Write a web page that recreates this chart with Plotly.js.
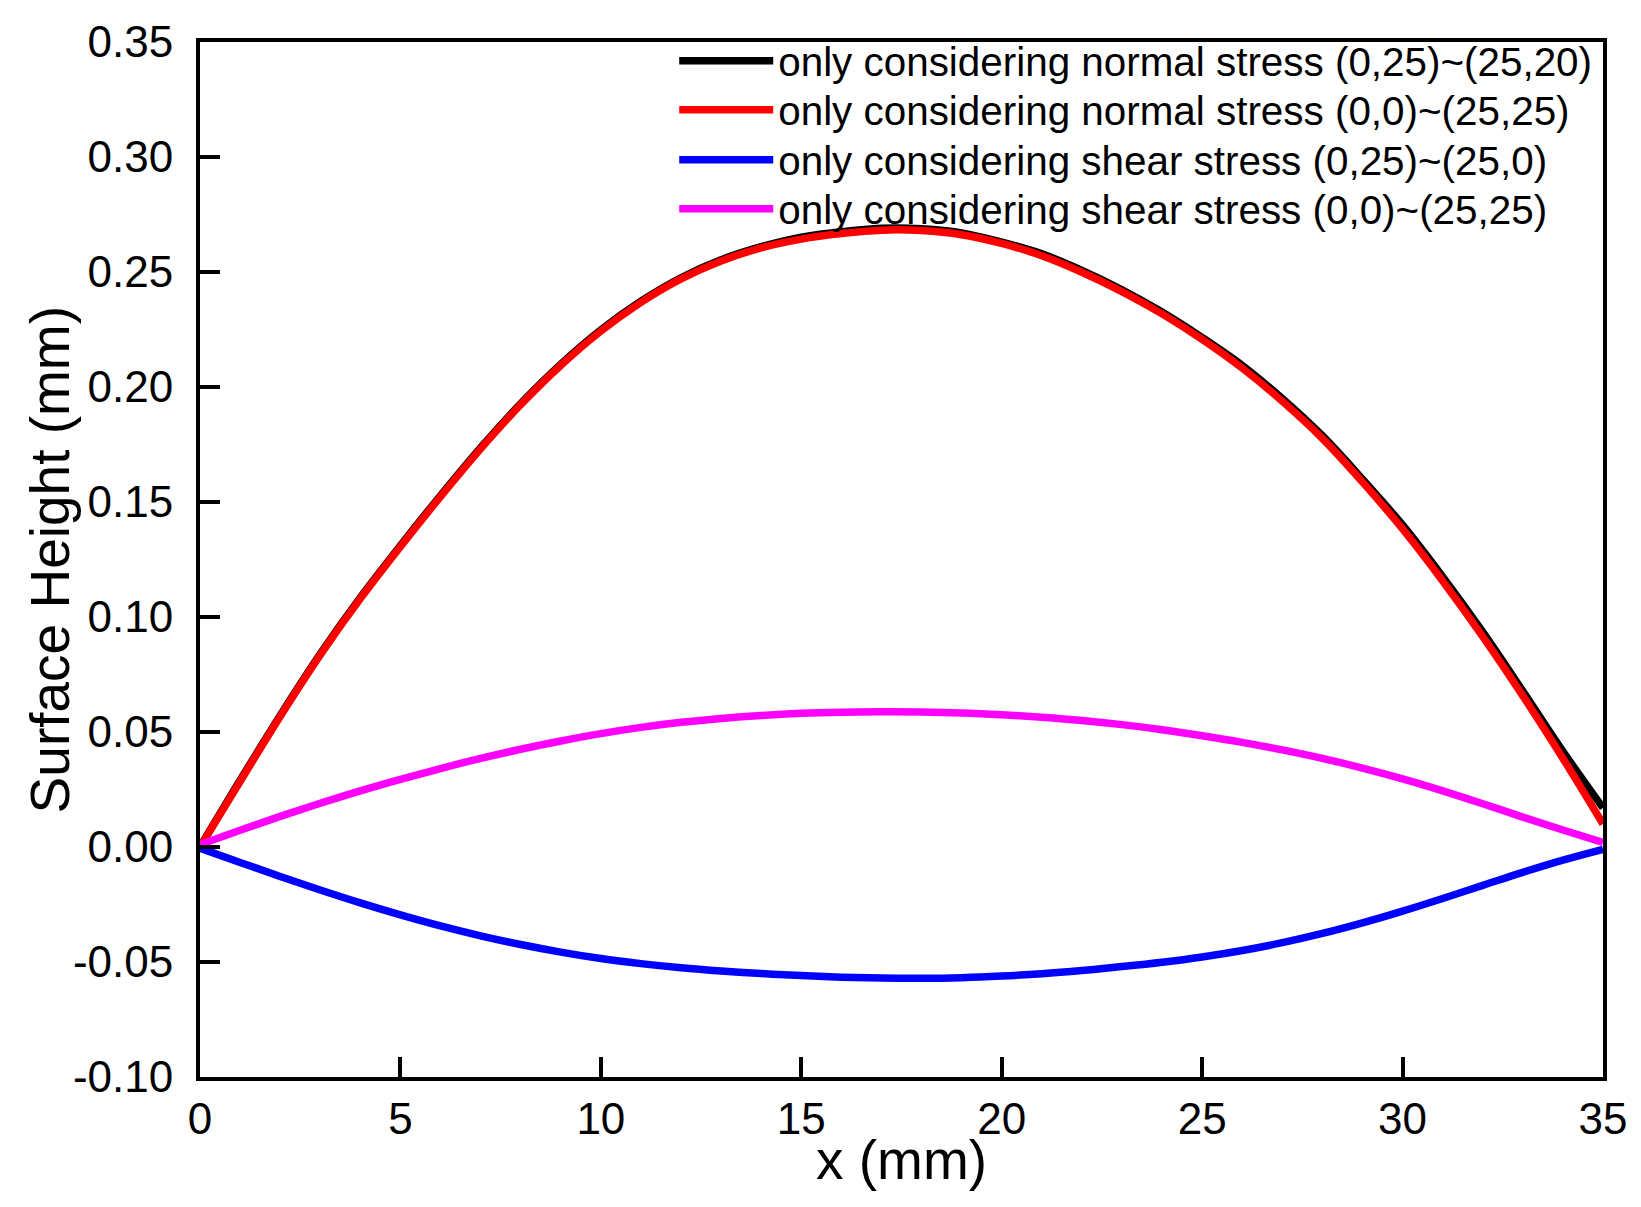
<!DOCTYPE html>
<html>
<head>
<meta charset="utf-8">
<script src="https://cdn.plot.ly/plotly-3.0.1.min.js"></script>
<style>
  html, body { margin: 0; padding: 0; background: #fff; }
  #chart { width: 1641px; height: 1207px; }
</style>
</head>
<body>
<div id="chart"></div>
<script>
// x positions (mm)
const xValues = [0,1,2,3,4,5,6,7,8,9,10,11,12,13,14,15,16,17,18,19,20,21,22,23,24,25,26,27,28,29,30,31,32,33,34,35];

// only considering normal stress (0,25)~(25,20)
const normalA = [0, 0.0290, 0.0572, 0.0840, 0.1085, 0.1311, 0.1528, 0.1736, 0.1928, 0.2099, 0.2248, 0.2373, 0.2475, 0.2553, 0.2610, 0.2651, 0.2675, 0.2690, 0.2688, 0.2670, 0.2630, 0.2579, 0.2507, 0.2423, 0.2326, 0.2215, 0.2094, 0.1950, 0.1788, 0.1599, 0.1400, 0.1175, 0.0935, 0.0678, 0.0416, 0.0170];

// only considering normal stress (0,0)~(25,25)
const normalB = [0, 0.0285, 0.0567, 0.0835, 0.1080, 0.1306, 0.1523, 0.1731, 0.1923, 0.2094, 0.2243, 0.2368, 0.2470, 0.2548, 0.2605, 0.2643, 0.2667, 0.2682, 0.2680, 0.2662, 0.2624, 0.2571, 0.2499, 0.2415, 0.2318, 0.2207, 0.2082, 0.1938, 0.1776, 0.1587, 0.1383, 0.1157, 0.0915, 0.0657, 0.0385, 0.0100];

// only considering shear stress (0,25)~(25,0)
const shearA = [-0.0005, -0.0067, -0.0128, -0.0187, -0.0243, -0.0295, -0.0343, -0.0386, -0.0424, -0.0457, -0.0485, -0.0507, -0.0525, -0.0539, -0.0550, -0.0559, -0.0566, -0.0570, -0.0571, -0.0568, -0.0561, -0.0551, -0.0537, -0.0520, -0.0501, -0.0478, -0.0450, -0.0416, -0.0376, -0.0330, -0.0279, -0.0224, -0.0167, -0.0110, -0.0057, -0.0010];

// only considering shear stress (0,0)~(25,25)
const shearB = [0.0010, 0.0073, 0.0133, 0.0190, 0.0244, 0.0294, 0.0341, 0.0385, 0.0425, 0.0461, 0.0493, 0.0520, 0.0542, 0.0559, 0.0572, 0.0581, 0.0586, 0.0588, 0.0587, 0.0583, 0.0575, 0.0564, 0.0550, 0.0532, 0.0510, 0.0484, 0.0455, 0.0422, 0.0385, 0.0343, 0.0296, 0.0244, 0.0188, 0.0130, 0.0074, 0.0020];

const seriesNames = [
  'only considering normal stress (0,25)~(25,20)',
  'only considering normal stress (0,0)~(25,25)',
  'only considering shear stress (0,25)~(25,0)',
  'only considering shear stress (0,0)~(25,25)'
];
const seriesColors = ['#000000', '#ff0000', '#0000ff', '#ff00ff'];

const xTickVals = [0, 5, 10, 15, 20, 25, 30, 35];
const xTickText = ['0', '5', '10', '15', '20', '25', '30', '35'];
const yTickVals = [-0.10, -0.05, 0.00, 0.05, 0.10, 0.15, 0.20, 0.25, 0.30, 0.35];
const yTickText = ['-0.10', '-0.05', '0.00', '0.05', '0.10', '0.15', '0.20', '0.25', '0.30', '0.35'];

const xTitle = 'x (mm)';
const yTitle = 'Surface Height (mm)';

const ySeries = [normalA, normalB, shearA, shearB];
const legendIds = ['legend', 'legend2', 'legend3', 'legend4'];
const legendRowY = [0.9817, 0.9344, 0.8861, 0.8387];
const FONT = 'Liberation Sans, Arial, Helvetica, sans-serif';

const traces = ySeries.map((ys, i) => ({
  x: xValues,
  y: ys,
  type: 'scatter',
  mode: 'lines',
  name: seriesNames[i],
  legend: legendIds[i],
  line: { color: seriesColors[i], width: 7.5, shape: 'spline', smoothing: 1 }
}));

const axisCommon = {
  showline: true,
  linecolor: '#000',
  linewidth: 4,
  mirror: true,
  ticks: 'inside',
  ticklen: 20,
  tickwidth: 4,
  tickcolor: '#000',
  showgrid: false,
  zeroline: false,
  tickfont: { family: FONT, size: 44, color: '#000' },
  automargin: false
};

const layout = {
  width: 1641,
  height: 1207,
  margin: { l: 200, r: 38, t: 42, b: 130, pad: 0 },
  paper_bgcolor: '#fff',
  plot_bgcolor: '#fff',
  font: { family: FONT, color: '#000' },
  showlegend: true,
  xaxis: Object.assign({}, axisCommon, {
    range: [0, 35],
    tickmode: 'array',
    tickvals: xTickVals,
    ticktext: xTickText
  }),
  yaxis: Object.assign({}, axisCommon, {
    range: [-0.10, 0.35],
    tickmode: 'array',
    tickvals: yTickVals,
    ticktext: yTickText,
    ticklabelstandoff: 14
  }),
  annotations: [
    { text: xTitle, xref: 'paper', yref: 'paper', x: 0.5, y: -0.0802,
      xanchor: 'center', yanchor: 'middle', showarrow: false,
      font: { family: FONT, size: 55, color: '#000' } },
    { text: yTitle, xref: 'paper', yref: 'paper', x: -0.107, y: 0.5,
      xanchor: 'center', yanchor: 'middle', showarrow: false, textangle: -90,
      font: { family: FONT, size: 55, color: '#000' } }
  ]
};

legendIds.forEach((id, i) => {
  layout[id] = {
    x: 0.338, y: legendRowY[i], xanchor: 'left', yanchor: 'middle',
    font: { family: FONT, size: 40.4, color: '#000' },
    bgcolor: 'rgba(0,0,0,0)',
    borderwidth: 0,
    itemwidth: 94
  };
});

Plotly.newPlot('chart', traces, layout, { displayModeBar: false, staticPlot: true });
</script>
</body>
</html>
